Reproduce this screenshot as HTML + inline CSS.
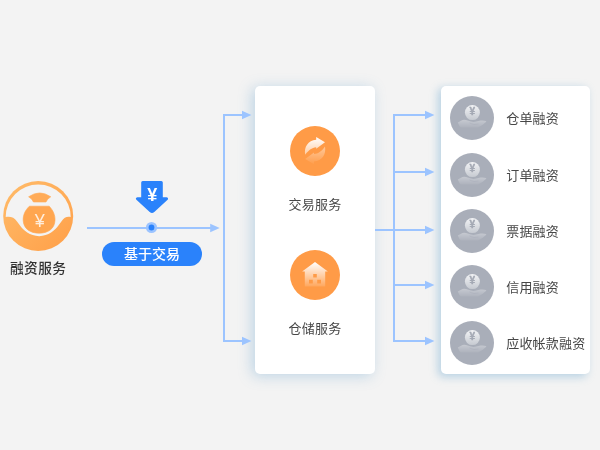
<!DOCTYPE html>
<html lang="zh-CN">
<head>
<meta charset="utf-8">
<title>融资服务</title>
<style>
html,body{margin:0;padding:0;}
body{width:600px;height:450px;overflow:hidden;background:#f3f3f3;position:relative;
  font-family:"Liberation Sans","Noto Sans CJK SC",sans-serif;color:#333;}
.card{position:absolute;background:#fff;border-radius:5px;
  }
.lbl{position:absolute;font-size:13px;letter-spacing:.2px;line-height:20px;white-space:nowrap;color:#474747;}
.c{text-align:center;}
.pill{position:absolute;left:102px;top:242px;width:100px;height:24px;border-radius:12px;background:#2a82fb;color:#fff;
  font-size:14px;line-height:24px;text-align:center;font-weight:500;}
.yen{position:absolute;text-align:center;white-space:nowrap;}
svg{position:absolute;left:0;top:0;overflow:visible;}
</style>
</head>
<body>
<div id="stage" style="position:absolute;left:0;top:0;width:600px;height:450px;will-change:opacity;">
<div class="card" style="left:255px;top:86px;width:120px;height:288px;box-shadow:-3px 2px 14px rgba(98,160,205,.37);"></div>
<div class="card" style="left:441px;top:86px;width:149px;height:288px;box-shadow:-3px 2.5px 9px rgba(95,160,205,.40);"></div>

<svg width="600" height="450" viewBox="0 0 600 450">
  <defs>
    <linearGradient id="og" x1="0" y1="0" x2="1" y2="1">
      <stop offset="0" stop-color="#ffbc6a"/>
      <stop offset="1" stop-color="#ff9f48"/>
    </linearGradient>
    <linearGradient id="wf" x1="0" y1="0" x2="0" y2="1">
      <stop offset="0" stop-color="#fff" stop-opacity="1"/>
      <stop offset="1" stop-color="#fff" stop-opacity=".12"/>
    </linearGradient>
    <linearGradient id="wa" x1="0" y1="0" x2="0" y2="1">
      <stop offset="0" stop-color="#fff" stop-opacity="1"/>
      <stop offset="1" stop-color="#fff" stop-opacity=".5"/>
    </linearGradient>
    <linearGradient id="wb" x1="0" y1="0" x2="0" y2="1">
      <stop offset="0" stop-color="#fff" stop-opacity=".45"/>
      <stop offset="1" stop-color="#fff" stop-opacity=".03"/>
    </linearGradient>
    <linearGradient id="coin" x1="0" y1="0" x2="0" y2="1">
      <stop offset="0" stop-color="#f2f3f5"/>
      <stop offset="1" stop-color="#c6cad1"/>
    </linearGradient>
    <linearGradient id="hd" x1="0" y1="0" x2="0" y2="1">
      <stop offset="0" stop-color="#fff" stop-opacity=".34"/>
      <stop offset="1" stop-color="#fff" stop-opacity=".06"/>
    </linearGradient>
    <g id="hand">
      <circle cx="0" cy="0" r="22" fill="#a9aeb9"/>
      <circle cx="0.4" cy="-5.4" r="7.5" fill="url(#coin)"/>
      <path d="M-14.200 4.600 L-9.500 2 Q-8 1.400 -6 2 L-1 3.600 Q1 4.200 3 3.800 L8.500 2.600 Q11.500 2.200 14 3 Q14.600 3.400 14 4 Q10 8 6 9.400 H-10.500 Q-12 9.400 -12.600 8 Z" fill="url(#hd)"/>
      <path d="M-2.500 5 Q2 7.600 6.500 6" fill="none" stroke="#a9aeb9" stroke-width=".9" opacity=".55"/>
    </g>
  </defs>
  <!-- connectors -->
  <g fill="none" stroke="#9cc4ff" stroke-width="2">
    <path d="M87 228 H212"/>
    <path d="M244 115 H224 V341 H244"/>
    <path d="M375 230 H428"/>
    <path d="M428 115 H394 V341 H428"/>
    <path d="M394 172 H428"/>
    <path d="M394 285 H428"/>
  </g>
  <g fill="#9cc4ff">
    <path d="M210.2 223.800 L219.700 228 L210.2 232.2 Z"/>
    <path d="M242 110.8 L251.5 115 L242 119.2 Z"/>
    <path d="M242 336.8 L251.5 341 L242 345.2 Z"/>
    <path d="M425 110.8 L434.5 115 L425 119.2 Z"/>
    <path d="M425 167.8 L434.5 172 L425 176.2 Z"/>
    <path d="M425 225.8 L434.5 230 L425 234.2 Z"/>
    <path d="M425 280.8 L434.5 285 L425 289.2 Z"/>
    <path d="M425 336.8 L434.5 341 L425 345.2 Z"/>
  </g>
  <circle cx="151.500" cy="227.500" r="5.600" fill="#9cc4ff"/>
  <circle cx="151.500" cy="227.500" r="2.900" fill="#2a82fb"/>
  <!-- down arrow -->
  <path d="M142.700 182.500 H161.300 V198.700 H166.600 L153.300 210.800 Q152 211.900 150.700 210.800 L137.400 198.700 H142.700 Z" fill="#2a82fb" stroke="#2a82fb" stroke-width="3" stroke-linejoin="round"/>
  <!-- left icon -->
  <circle cx="38.200" cy="216" r="35" fill="url(#og)"/>
  <path d="M5.700 217 A32.500 32.500 0 0 1 70.700 217 C66.5 216.3 64.4 217.5 61.4 221.5 L58.4 225.6 C55.4 230 48.4 236.2 39.2 236.2 C30 236.2 23 230 20 225.6 L17 221.5 C14 217.5 11 216.3 5.700 217 Z" fill="#f3f3f3"/>
  <path d="M28.6 196.8 Q39.7 189 50.8 196.8 Q47 199 46 202 H33.400 Q32.400 199 28.600 196.800 Z" fill="#ffab57" stroke="#ffab57" stroke-width=".6" stroke-linejoin="round"/>
  <path d="M29.4 206.2 H49.2 C53 210.2 55.3 215 55 220.5 C54.6 228.8 48 233.2 39.1 233.2 C30.200 233.2 23.600 228.8 23.200 220.5 C22.900 215 25.200 210.2 29.400 206.2 Z" fill="#ffa650" stroke="#ffa650" stroke-width=".6" stroke-linejoin="round"/>
  <!-- orange circles -->
  <circle cx="315" cy="151" r="25" fill="#ff9b47"/>
  <circle cx="315" cy="275" r="25" fill="#ff9b47"/>
  <!-- refresh icon -->
  <path d="M305.200 154.800 C303.800 147 308 140.500 316.200 139.700 L316.200 137 L325 142.300 L316.200 148.700 L316.200 147.200 C312 147.500 308 150.500 305.200 154.800 Z" fill="url(#wa)"/>
  <path d="M325 146.500 C326.400 154.300 322.200 160.800 314 161.600 L314 164.300 L305.200 159 L314 152.600 L314 154.100 C318.200 153.800 322.200 150.800 325 146.500 Z" fill="url(#wb)"/>
  <!-- house icon -->
  <path d="M315 262.100 L327.900 271.400 H325.200 V286.600 H304.800 V271.400 H302.100 Z M313.200 274 V277.400 H316.800 V274 Z M309 279.800 V283.400 H312.800 V279.800 Z M317.200 279.800 V283.400 H321 V279.800 Z" fill="url(#wf)" fill-rule="evenodd"/>
  <!-- grey circles -->
  <use href="#hand" x="472" y="118"/>
  <use href="#hand" x="472" y="175"/>
  <use href="#hand" x="472" y="231"/>
  <use href="#hand" x="472" y="287"/>
  <use href="#hand" x="472" y="343"/>
</svg>

<div class="lbl" style="left:10px;top:259px;font-size:13.700px;letter-spacing:.4px;font-weight:500;color:#333;">融资服务</div>
<div class="pill">基于交易</div>
<div class="yen" style="left:142.300px;top:186.100px;width:20px;color:#fff;font-size:18px;font-weight:bold;line-height:18px;">¥</div>
<div class="yen" style="left:29.700px;top:211.200px;width:20px;color:#fff;font-size:18px;line-height:20px;opacity:.8;">¥</div>
<div class="yen" style="left:462.400px;top:106.500px;width:20px;color:#a4a9b4;font-size:10px;font-weight:bold;line-height:12px;-webkit-text-stroke:.4px #a4a9b4;margin-top:-.500px;">¥</div>
<div class="yen" style="left:462.400px;top:163.500px;width:20px;color:#a4a9b4;font-size:10px;font-weight:bold;line-height:12px;-webkit-text-stroke:.4px #a4a9b4;margin-top:-.500px;">¥</div>
<div class="yen" style="left:462.400px;top:219.500px;width:20px;color:#a4a9b4;font-size:10px;font-weight:bold;line-height:12px;-webkit-text-stroke:.4px #a4a9b4;margin-top:-.500px;">¥</div>
<div class="yen" style="left:462.400px;top:275.500px;width:20px;color:#a4a9b4;font-size:10px;font-weight:bold;line-height:12px;-webkit-text-stroke:.4px #a4a9b4;margin-top:-.500px;">¥</div>
<div class="yen" style="left:462.400px;top:331.500px;width:20px;color:#a4a9b4;font-size:10px;font-weight:bold;line-height:12px;-webkit-text-stroke:.4px #a4a9b4;margin-top:-.500px;">¥</div>
<div class="lbl c" style="left:255px;top:195px;width:120px;">交易服务</div>
<div class="lbl c" style="left:255px;top:319px;width:120px;">仓储服务</div>
<div class="lbl" style="left:506.200px;top:109px;">仓单融资</div>
<div class="lbl" style="left:506.200px;top:166px;">订单融资</div>
<div class="lbl" style="left:506.200px;top:222px;">票据融资</div>
<div class="lbl" style="left:506.200px;top:278px;">信用融资</div>
<div class="lbl" style="left:506.200px;top:334px;">应收帐款融资</div>
</div>
</body>
</html>
